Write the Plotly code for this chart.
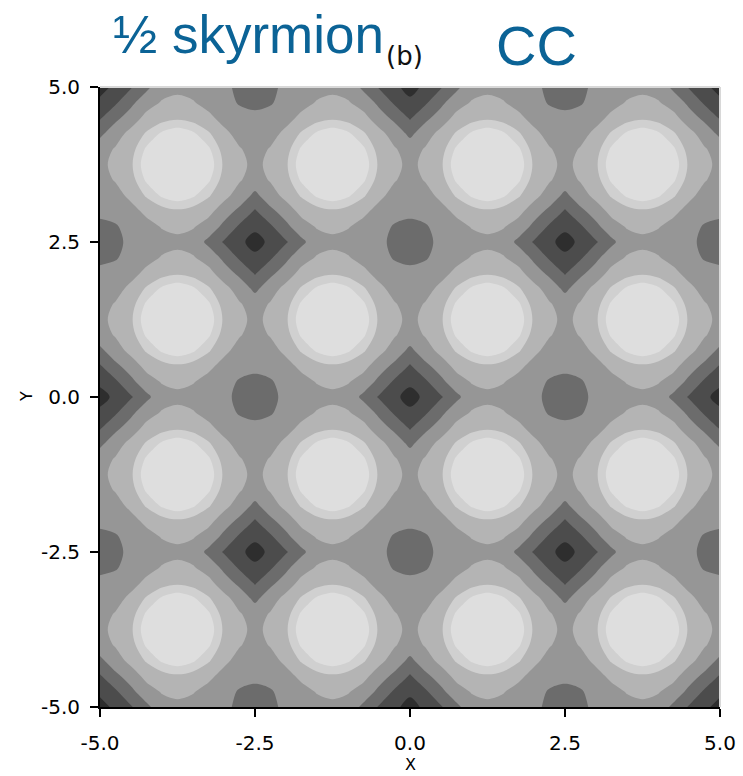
import plotly.graph_objects as go

# ---- data ----
# Grey level (0 = darkest ... 6 = lightest) estimated on a 0.25 grid over one
# 2.5 x 2.5 tile of the pattern: dark core at lower-left (p=0,q=0) and
# upper-right, medium-dark spot at lower-right and upper-left, bright blob in
# the middle.  Rows run from q=0 (bottom) to q=10 (top), columns p=0..10.
CELL_ROWS = [
    [0.0, 0.8, 1.4, 2.3, 3.0, 3.0, 3.0, 3.0, 2.8, 2.2, 2.0],
    [0.8, 1.35, 2.3, 3.0, 3.6, 4.0, 3.6, 3.0, 2.9, 2.4, 2.2],
    [1.4, 2.3, 2.9, 3.85, 4.0, 4.3, 4.0, 3.85, 3.0, 2.9, 2.8],
    [2.3, 3.0, 3.85, 4.6, 5.7, 6.2, 5.7, 4.6, 3.85, 3.0, 3.0],
    [3.0, 3.6, 4.0, 5.7, 6.3, 6.4, 6.3, 5.7, 4.0, 3.6, 3.0],
    [3.0, 4.0, 4.3, 6.2, 6.4, 6.5, 6.4, 6.2, 4.3, 4.0, 3.0],
    [3.0, 3.6, 4.0, 5.7, 6.3, 6.4, 6.3, 5.7, 4.0, 3.6, 3.0],
    [3.0, 3.0, 3.85, 4.6, 5.7, 6.2, 5.7, 4.6, 3.85, 3.0, 2.3],
    [2.8, 2.9, 3.0, 3.85, 4.0, 4.3, 4.0, 3.85, 2.9, 2.3, 1.4],
    [2.2, 2.4, 2.9, 3.0, 3.6, 4.0, 3.6, 3.0, 2.3, 1.35, 0.8],
    [2.0, 2.2, 2.8, 3.0, 3.0, 3.0, 3.0, 2.3, 1.4, 0.8, 0.0],
]
TILES = 4                     # tiles across and down (x, y from -5 to 5)
X_MIN, X_MAX = -5.0, 5.0
TICK_VALS = [-5.0, -2.5, 0.0, 2.5, 5.0]
TICK_TEXT = ["-5.0", "-2.5", "0.0", "2.5", "5.0"]
GREYS = ["#2e2e2e", "#4c4c4c", "#6c6c6c", "#969696", "#b4b4b4", "#d0d0d0", "#dedede"]
TITLE_MAIN = "½ skyrmion"
TITLE_SUB = "(b)"
TITLE_RIGHT = "CC"
X_LABEL = "X"
Y_LABEL = "Y"

# ---- build the full grid by repeating the tile (alternating mirror) ----
n_pts = len(CELL_ROWS[0]) - 1          # 10 steps per tile
N = TILES * n_pts + 1
step = (X_MAX - X_MIN) / (N - 1)
xs = [X_MIN + step * k for k in range(N)]
ys = [X_MIN + step * k for k in range(N)]

Z = []
for l in range(N):
    cj, q = divmod(l, n_pts)
    row = []
    for ci in range(TILES):
        base = CELL_ROWS[q]
        seg = base if (ci + cj) % 2 == 0 else base[::-1]
        row.extend(seg if ci == TILES - 1 else seg[:n_pts])
    Z.append(row)

nlev = len(GREYS)
colorscale = []
for k, c in enumerate(GREYS):
    colorscale.append([k / nlev, c])
    colorscale.append([(k + 1) / nlev, c])

fig = go.Figure()
fig.add_trace(go.Contour(
    x=xs, y=ys, z=Z,
    autocontour=False,
    contours=dict(start=0.5, end=nlev - 1.5, size=1, coloring="fill", showlines=False),
    colorscale=colorscale, zmin=-0.5, zmax=nlev - 0.5,
    showscale=False, line=dict(width=0, smoothing=1.0),
    hoverinfo="skip",
))

tickfont = dict(family="DejaVu Sans", size=20, color="black")
fig.update_layout(
    width=743, height=776,
    margin=dict(l=100, r=23, t=87, b=69, autoexpand=False),
    paper_bgcolor="white", plot_bgcolor="white",
    showlegend=False,
    xaxis=dict(range=[X_MIN, X_MAX], tickvals=TICK_VALS, ticktext=TICK_TEXT,
               ticks="outside", ticklen=8, tickwidth=2, tickcolor="black",
               showline=True, linecolor="black", linewidth=2,
               showgrid=False, zeroline=False, tickfont=tickfont,
               ticklabelstandoff=9, automargin=False),
    yaxis=dict(range=[X_MIN, X_MAX], tickvals=TICK_VALS, ticktext=TICK_TEXT,
               ticks="outside", ticklen=8, tickwidth=2, tickcolor="black",
               showline=True, linecolor="black", linewidth=2,
               showgrid=False, zeroline=False, tickfont=tickfont,
               ticklabelstandoff=6, automargin=False),
)

def px_to_paper_x(px):
    return (px - 100) / 620.0

def px_to_paper_y(py):
    return (707 - py) / 620.0

fig.add_shape(type="line", xref="paper", yref="paper", x0=0, x1=1, y0=1, y1=1,
              line=dict(color="#d8d8d8", width=2))
fig.add_shape(type="line", xref="paper", yref="paper", x0=1, x1=1, y0=0, y1=1,
              line=dict(color="#d8d8d8", width=2))

blue = "#0b6396"
fig.add_annotation(text=TITLE_MAIN, xref="paper", yref="paper",
                   x=px_to_paper_x(111), y=px_to_paper_y(34), xanchor="left", yanchor="middle",
                   showarrow=False, font=dict(family="Liberation Sans", size=53, color=blue))
fig.add_annotation(text=TITLE_SUB, xref="paper", yref="paper",
                   x=px_to_paper_x(384), y=px_to_paper_y(56), xanchor="left", yanchor="middle",
                   showarrow=False, font=dict(family="DejaVu Sans", size=26, color="#111111"))
fig.add_annotation(text=TITLE_RIGHT, xref="paper", yref="paper",
                   x=px_to_paper_x(536), y=px_to_paper_y(45), xanchor="center", yanchor="middle",
                   showarrow=False, font=dict(family="Liberation Sans", size=56, color=blue))
fig.add_annotation(text=X_LABEL, xref="paper", yref="paper",
                   x=px_to_paper_x(410), y=px_to_paper_y(764), xanchor="center", yanchor="middle",
                   showarrow=False, font=dict(family="DejaVu Sans", size=16, color="black"))
fig.add_annotation(text=Y_LABEL, xref="paper", yref="paper", textangle=-90,
                   x=px_to_paper_x(26), y=px_to_paper_y(397), xanchor="center", yanchor="middle",
                   showarrow=False, font=dict(family="DejaVu Sans", size=16, color="black"))

fig.write_html("out.html", config={"displayModeBar": False},
               post_script="document.body.style.margin='0';document.body.style.padding='0';")
